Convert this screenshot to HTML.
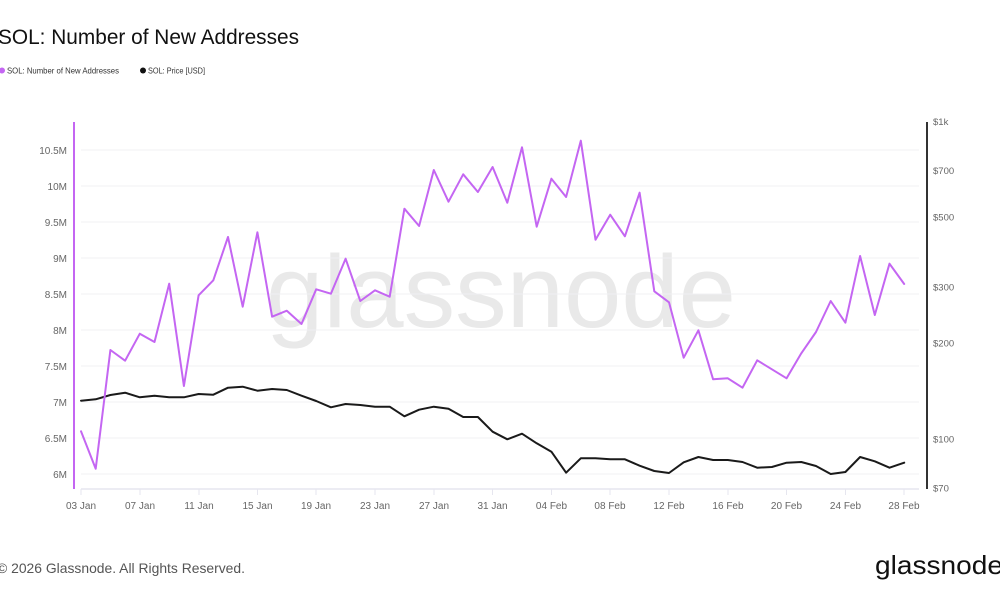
<!DOCTYPE html>
<html><head><meta charset="utf-8"><style>
html,body{margin:0;padding:0;background:#fff;}
svg{display:block;font-family:"Liberation Sans",sans-serif;}
</style></head><body>
<svg width="1000" height="600" viewBox="0 0 1000 600" xmlns="http://www.w3.org/2000/svg">
<rect width="1000" height="600" fill="#fff"/>
<text x="-2" y="44" font-size="21" fill="#111" textLength="301" lengthAdjust="spacingAndGlyphs">SOL: Number of New Addresses</text>
<circle cx="2" cy="70.5" r="3" fill="#c466f2"/>
<text x="7" y="73.5" font-size="8.5" fill="#333" textLength="112" lengthAdjust="spacingAndGlyphs">SOL: Number of New Addresses</text>
<circle cx="143" cy="70.5" r="3" fill="#111"/>
<text x="148" y="73.5" font-size="8.5" fill="#333" textLength="57" lengthAdjust="spacingAndGlyphs">SOL: Price [USD]</text>
<text x="266" y="327" font-size="103" fill="#e9e9e9" textLength="470" lengthAdjust="spacingAndGlyphs">glassnode</text>
<g stroke="#f0f0f3" stroke-width="1">
<line x1="81" x2="919" y1="150" y2="150"/><line x1="81" x2="919" y1="186" y2="186"/><line x1="81" x2="919" y1="222" y2="222"/><line x1="81" x2="919" y1="258" y2="258"/><line x1="81" x2="919" y1="294" y2="294"/><line x1="81" x2="919" y1="330" y2="330"/><line x1="81" x2="919" y1="366" y2="366"/><line x1="81" x2="919" y1="402" y2="402"/><line x1="81" x2="919" y1="438" y2="438"/><line x1="81" x2="919" y1="474" y2="474"/>
</g>
<line x1="81" x2="919" y1="489" y2="489" stroke="#e6e6ef" stroke-width="1.5"/>
<g stroke="#e6e6ef" stroke-width="1">
<line x1="81" x2="81" y1="489" y2="495"/><line x1="140" x2="140" y1="489" y2="495"/><line x1="199" x2="199" y1="489" y2="495"/><line x1="257.5" x2="257.5" y1="489" y2="495"/><line x1="316" x2="316" y1="489" y2="495"/><line x1="375" x2="375" y1="489" y2="495"/><line x1="434" x2="434" y1="489" y2="495"/><line x1="492.5" x2="492.5" y1="489" y2="495"/><line x1="551.5" x2="551.5" y1="489" y2="495"/><line x1="610" x2="610" y1="489" y2="495"/><line x1="669" x2="669" y1="489" y2="495"/><line x1="728" x2="728" y1="489" y2="495"/><line x1="786.5" x2="786.5" y1="489" y2="495"/><line x1="845.5" x2="845.5" y1="489" y2="495"/><line x1="904" x2="904" y1="489" y2="495"/>
</g>
<g font-size="10" fill="#666" text-anchor="end">
<text x="67" y="154">10.5M</text><text x="67" y="190">10M</text><text x="67" y="226">9.5M</text><text x="67" y="262">9M</text><text x="67" y="298">8.5M</text><text x="67" y="334">8M</text><text x="67" y="370">7.5M</text><text x="67" y="406">7M</text><text x="67" y="442">6.5M</text><text x="67" y="478">6M</text>
</g>
<g font-size="9.5" fill="#666">
<text x="933" y="125">$1k</text><text x="933" y="174">$700</text><text x="933" y="220.5">$500</text><text x="933" y="290.5">$300</text><text x="933" y="346.5">$200</text><text x="933" y="442.5">$100</text><text x="933" y="491.5">$70</text>
</g>
<g font-size="10" fill="#666" text-anchor="middle">
<text x="81" y="509">03 Jan</text><text x="140" y="509">07 Jan</text><text x="199" y="509">11 Jan</text><text x="257.5" y="509">15 Jan</text><text x="316" y="509">19 Jan</text><text x="375" y="509">23 Jan</text><text x="434" y="509">27 Jan</text><text x="492.5" y="509">31 Jan</text><text x="551.5" y="509">04 Feb</text><text x="610" y="509">08 Feb</text><text x="669" y="509">12 Feb</text><text x="728" y="509">16 Feb</text><text x="786.5" y="509">20 Feb</text><text x="845.5" y="509">24 Feb</text><text x="904" y="509">28 Feb</text>
</g>
<line x1="74" x2="74" y1="122" y2="489" stroke="#c466f2" stroke-width="2"/>
<line x1="927" x2="927" y1="122" y2="489" stroke="#333" stroke-width="2"/>
<polyline fill="none" stroke="#1a1a1a" stroke-width="2" stroke-linejoin="round" stroke-linecap="round" points="81,400.7 95.7,399.3 110.4,395 125.1,392.7 139.8,397.3 154.5,395.7 169.2,397.3 183.9,397.3 198.6,394 213.3,394.7 228,387.7 242.7,386.7 257.4,390.7 272.1,389 286.8,390 301.5,395.7 316.2,401 330.9,407.3 345.6,404 360.3,405 375,406.7 389.7,406.7 404.4,416.3 419.1,409.7 433.8,406.7 448.5,408.7 463.2,417 477.9,417 492.6,431.7 507.3,439.3 522,433.7 536.7,443.3 551.4,451.7 566.1,472.7 580.8,458.3 595.5,458.3 610.2,459.3 624.9,459.3 639.6,465.7 654.3,471 669,473 683.7,462.3 698.4,457 713.1,460 727.8,460 742.5,462 757.2,467.7 771.9,467 786.6,462.7 801.3,462 816,466 830.7,474 845.4,472 860.1,457 874.8,461.3 889.5,467.7 904.2,462.7"/>
<polyline fill="none" stroke="#c466f2" stroke-width="2" stroke-linejoin="round" stroke-linecap="round" points="81,431.3 95.7,468.7 110.4,350 125.1,360.7 139.8,333.7 154.5,342 169.2,283.7 183.9,386 198.6,295.3 213.3,280.3 228,237 242.7,306.7 257.4,232.3 272.1,316.7 286.8,310.7 301.5,324 316.2,289.3 330.9,293.7 345.6,258.7 360.3,301 375,290.3 389.7,296.7 404.4,208.7 419.1,226 433.8,170 448.5,201.7 463.2,174.3 477.9,192 492.6,167 507.3,202.7 522,147.3 536.7,226.7 551.4,178.7 566.1,197 580.8,140.7 595.5,239.7 610.2,214.7 624.9,236.3 639.6,192.7 654.3,291.3 669,302.3 683.7,357.7 698.4,330.3 713.1,379.3 727.8,378.3 742.5,387.7 757.2,360.3 771.9,369.3 786.6,378.3 801.3,353.3 816,332 830.7,301 845.4,322.7 860.1,256 874.8,315 889.5,263.7 904.2,284"/>
<text x="-3" y="573" font-size="14" fill="#555" textLength="248" lengthAdjust="spacingAndGlyphs">© 2026 Glassnode. All Rights Reserved.</text>
<text x="875" y="574" font-size="26" fill="#111" textLength="128" lengthAdjust="spacingAndGlyphs">glassnode</text>
</svg>
</body></html>
